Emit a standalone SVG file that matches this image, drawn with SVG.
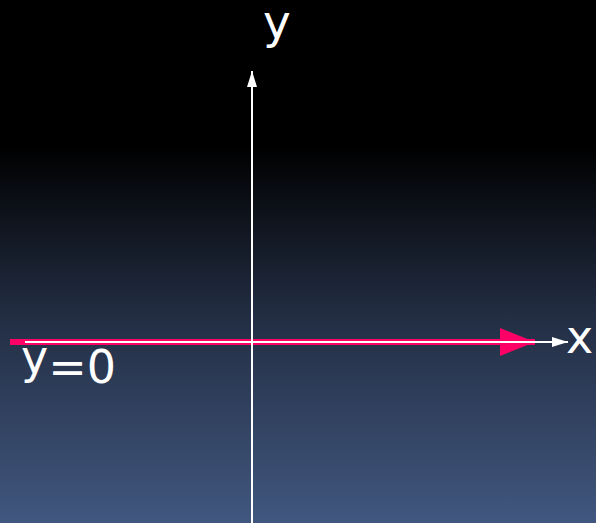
<svg xmlns="http://www.w3.org/2000/svg" width="596" height="523" viewBox="0 0 596 523">
  <defs>
    <linearGradient id="bg" x1="0" y1="0" x2="0" y2="1">
      <stop offset="0" stop-color="#000000"/>
      <stop offset="0.28" stop-color="#000000"/>
      <stop offset="0.6" stop-color="#222d42"/>
      <stop offset="1" stop-color="#41577f"/>
    </linearGradient>
    <marker id="whiteHead" viewBox="0 0 16 10" refX="16" refY="5" markerWidth="16" markerHeight="10" markerUnits="userSpaceOnUse" orient="auto">
      <path d="M0,0 L16,5 L0,10 Z" fill="#ffffff"/>
    </marker>
    <marker id="pinkHead" viewBox="0 0 35 28" refX="35" refY="14" markerWidth="35" markerHeight="28" markerUnits="userSpaceOnUse" orient="auto">
      <path d="M0,0 L35,14 L0,28 Z" fill="#ff0066"/>
    </marker>
  </defs>
  <style>
    .lbl { font-family: "DejaVu Sans", "Liberation Sans", sans-serif; fill: #ffffff; }
    .axis { stroke: #ffffff; stroke-width: 2; fill: none; }
  </style>
  <rect x="0" y="0" width="596" height="523" fill="url(#bg)"/>
  <g id="connectors">
    <line id="pink-line" x1="10" y1="342" x2="535" y2="342" stroke="#ff0066" stroke-width="6" marker-end="url(#pinkHead)"/>
    <line id="x-axis" class="axis" x1="25" y1="342" x2="568" y2="342" marker-end="url(#whiteHead)"/>
    <line id="y-axis" class="axis" x1="252" y1="523" x2="252" y2="71" marker-end="url(#whiteHead)"/>
  </g>
  <g id="label-y">
    <text class="lbl" x="263" y="38" font-size="47">y</text>
  </g>
  <g id="label-x">
    <text class="lbl" x="566" y="353" font-size="46">x</text>
  </g>
  <g id="label-y0">
    <text class="lbl" x="21" y="383" font-size="46"><tspan dy="-10">y</tspan><tspan dy="10">=0</tspan></text>
  </g>
</svg>
